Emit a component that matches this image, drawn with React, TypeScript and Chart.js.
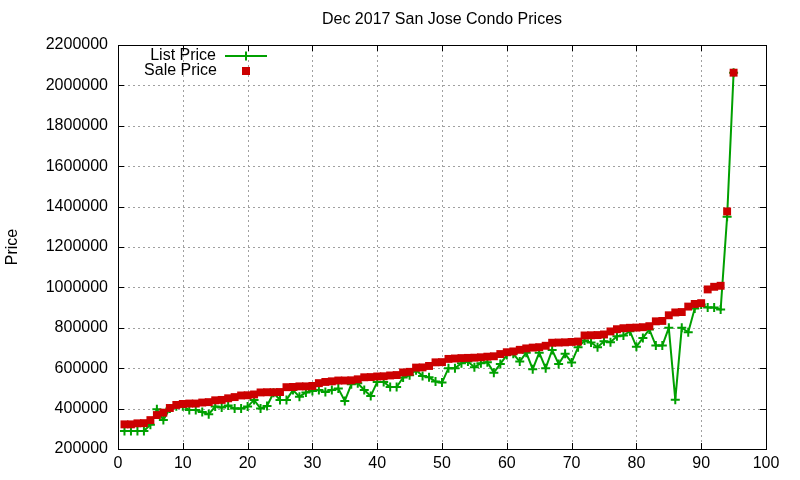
import React, { useEffect, useRef } from "react";
import { Chart, registerables } from "chart.js";

Chart.register(...registerables);

const chartTitle = "Dec 2017 San Jose Condo Prices";
const yAxisTitle = "Price";
const listLabel = "List Price";
const saleLabel = "Sale Price";

const xTicks = [0, 10, 20, 30, 40, 50, 60, 70, 80, 90, 100];
const yTicks = [200000, 400000, 600000, 800000, 1000000, 1200000, 1400000, 1600000, 1800000, 2000000, 2200000];

const listPrice = [
  289000, 289000, 289000, 289000, 320000, 397000, 343000, 400000, 412000, 412000,
  393000, 393000, 383000, 372000, 410000, 405000, 415000, 400000, 400000, 410000,
  443000, 400000, 413000, 478000, 443000, 443000, 492000, 459000, 480000, 487000,
  492000, 482000, 492000, 499000, 438000, 520000, 525000, 492000, 462000, 532000,
  532000, 507000, 507000, 554000, 565000, 590000, 562000, 555000, 534000, 529000,
  600000, 600000, 625000, 633000, 605000, 625000, 630000, 578000, 621000, 665000,
  671000, 633000, 677000, 595000, 677000, 600000, 690000, 621000, 671000, 628000,
  704000, 737000, 727000, 704000, 733000, 729000, 758000, 762000, 783000, 706000,
  750000, 792000, 712000, 712000, 800000, 444000, 800000, 778000, 895000, 915000,
  900000, 900000, 890000, 1350000, 2063000,
];

const salePrice = [
  322000, 322000, 327000, 328000, 343000, 368000, 380000, 403000, 418000, 423000,
  425000, 425000, 430000, 432000, 441000, 443000, 451000, 457000, 465000, 466000,
  470000, 480000, 481000, 481000, 482000, 506000, 507000, 510000, 510000, 512000,
  526000, 532000, 535000, 539000, 539000, 540000, 545000, 555000, 556000, 559000,
  560000, 564000, 566000, 579000, 582000, 603000, 604000, 611000, 629000, 630000,
  646000, 648000, 650000, 651000, 652000, 654000, 657000, 659000, 670000, 679000,
  683000, 691000, 698000, 702000, 704000, 711000, 726000, 727000, 728000, 730000,
  732000, 762000, 763000, 764000, 767000, 782000, 793000, 798000, 800000, 801000,
  803000, 808000, 832000, 834000, 862000, 876000, 878000, 905000, 918000, 922000,
  990000, 1003000, 1008000, 1376000, 2063000,
];

const FONT = '"Liberation Sans", Arial, Helvetica, sans-serif';
const FONT_SIZE = 16;
const GREEN = "#00a000";
const RED = "#cc0000";

const gnuplotFrame = {
  id: "gnuplotFrame",
  beforeDatasetsDraw(chart: any) {
    const { ctx, chartArea: a, scales } = chart;
    ctx.save();
    ctx.strokeStyle = "#a0a0a0";
    ctx.lineWidth = 1;
    ctx.setLineDash([2, 3]);
    ctx.beginPath();
    for (const v of xTicks) {
      if (v === xTicks[0] || v === xTicks[xTicks.length - 1]) continue;
      const px = Math.round(scales.x.getPixelForValue(v)) + 0.5;
      ctx.moveTo(px, a.top);
      ctx.lineTo(px, a.bottom);
    }
    for (const v of yTicks) {
      if (v === yTicks[0] || v === yTicks[yTicks.length - 1]) continue;
      const py = Math.round(scales.y.getPixelForValue(v)) + 0.5;
      ctx.moveTo(a.left, py);
      ctx.lineTo(a.right, py);
    }
    ctx.stroke();
    ctx.restore();
  },
  afterDatasetsDraw(chart: any) {
    const { ctx, chartArea: a, scales } = chart;
    ctx.save();
    ctx.strokeStyle = "#000";
    ctx.lineWidth = 1;
    ctx.setLineDash([]);
    const L = 6;
    ctx.beginPath();
    for (const v of xTicks) {
      const px = Math.round(scales.x.getPixelForValue(v)) + 0.5;
      ctx.moveTo(px, a.bottom);
      ctx.lineTo(px, a.bottom - L);
      ctx.moveTo(px, a.top);
      ctx.lineTo(px, a.top + L);
    }
    for (const v of yTicks) {
      const py = Math.round(scales.y.getPixelForValue(v)) + 0.5;
      ctx.moveTo(a.left, py);
      ctx.lineTo(a.left + L, py);
      ctx.moveTo(a.right, py);
      ctx.lineTo(a.right - L, py);
    }
    ctx.stroke();
    ctx.strokeRect(Math.round(a.left) + 0.5, Math.round(a.top) + 0.5, Math.round(a.right - a.left), Math.round(a.bottom - a.top));

    // title
    ctx.fillStyle = "#000";
    ctx.font = `${FONT_SIZE}px ${FONT}`;
    ctx.textAlign = "center";
    ctx.textBaseline = "middle";
    ctx.fillText(chartTitle, (a.left + a.right) / 2, 20);

    // y axis title
    ctx.save();
    ctx.translate(13, (a.top + a.bottom) / 2);
    ctx.rotate(-Math.PI / 2);
    ctx.fillText(yAxisTitle, 0, 0);
    ctx.restore();

    // legend (key)
    ctx.textAlign = "right";
    ctx.fillText(listLabel, 216, 56);
    ctx.fillText(saleLabel, 217, 71);
    ctx.strokeStyle = GREEN;
    ctx.lineWidth = 2;
    ctx.beginPath();
    ctx.moveTo(225, 56);
    ctx.lineTo(267, 56);
    ctx.moveTo(246, 51.5);
    ctx.lineTo(246, 60.5);
    ctx.stroke();
    ctx.fillStyle = RED;
    ctx.fillRect(242, 67, 8, 8);
    ctx.restore();
  },
};

export default function App() {
  const ref = useRef<HTMLCanvasElement | null>(null);

  useEffect(() => {
    if (!ref.current) return;
    const listPts = listPrice.map((v, i) => ({ x: i + 1, y: v }));
    const salePts = salePrice.map((v, i) => ({ x: i + 1, y: v }));
    const chart = new Chart(ref.current, {
      type: "line",
      data: {
        datasets: [
          {
            label: saleLabel,
            data: salePts,
            order: 1,
            showLine: false,
            pointStyle: "rect",
            pointRadius: 5.6,
            pointBorderWidth: 0,
            pointBackgroundColor: RED,
            pointBorderColor: RED,
            borderColor: RED,
            backgroundColor: RED,
          },
          {
            label: listLabel,
            data: listPts,
            order: 2,
            borderColor: GREEN,
            backgroundColor: GREEN,
            borderWidth: 2,
            tension: 0,
            pointStyle: "cross",
            pointRadius: 4.5,
            pointBorderWidth: 2,
            pointBorderColor: GREEN,
            pointBackgroundColor: GREEN,
          },
        ],
      },
      options: {
        responsive: false,
        animation: false,
        devicePixelRatio: 1,
        layout: { padding: { top: 45, right: 34, left: 0, bottom: 0 } },
        plugins: {
          legend: { display: false },
          tooltip: { enabled: false },
          title: { display: false },
        },
        scales: {
          x: {
            type: "linear",
            min: 0,
            max: 100,
            grid: { display: false, drawTicks: false },
            border: { display: false },
            afterFit: (s: any) => {
              s.height = 31;
            },
            afterBuildTicks: (s: any) => {
              s.ticks = xTicks.map((v) => ({ value: v }));
            },
            ticks: {
              padding: 5,
              color: "#000",
              font: { family: FONT, size: FONT_SIZE },
              maxRotation: 0,
              autoSkip: false,
              callback: (v: any) => String(v),
            },
          },
          y: {
            type: "linear",
            min: 200000,
            max: 2200000,
            grid: { display: false, drawTicks: false },
            border: { display: false },
            afterFit: (s: any) => {
              s.width = 118;
            },
            afterBuildTicks: (s: any) => {
              s.ticks = yTicks.map((v) => ({ value: v }));
            },
            ticks: {
              padding: 10,
              color: "#000",
              font: { family: FONT, size: FONT_SIZE },
              autoSkip: false,
              callback: (v: any) => String(v),
            },
          },
        },
      },
      plugins: [gnuplotFrame],
    });
    return () => chart.destroy();
  }, []);

  return (
    <div style={{ position: "fixed", left: 0, top: 0, width: 800, height: 480, background: "#fff" }}>
      <canvas ref={ref} width={800} height={480} style={{ width: 800, height: 480, display: "block" }} />
    </div>
  );
}
